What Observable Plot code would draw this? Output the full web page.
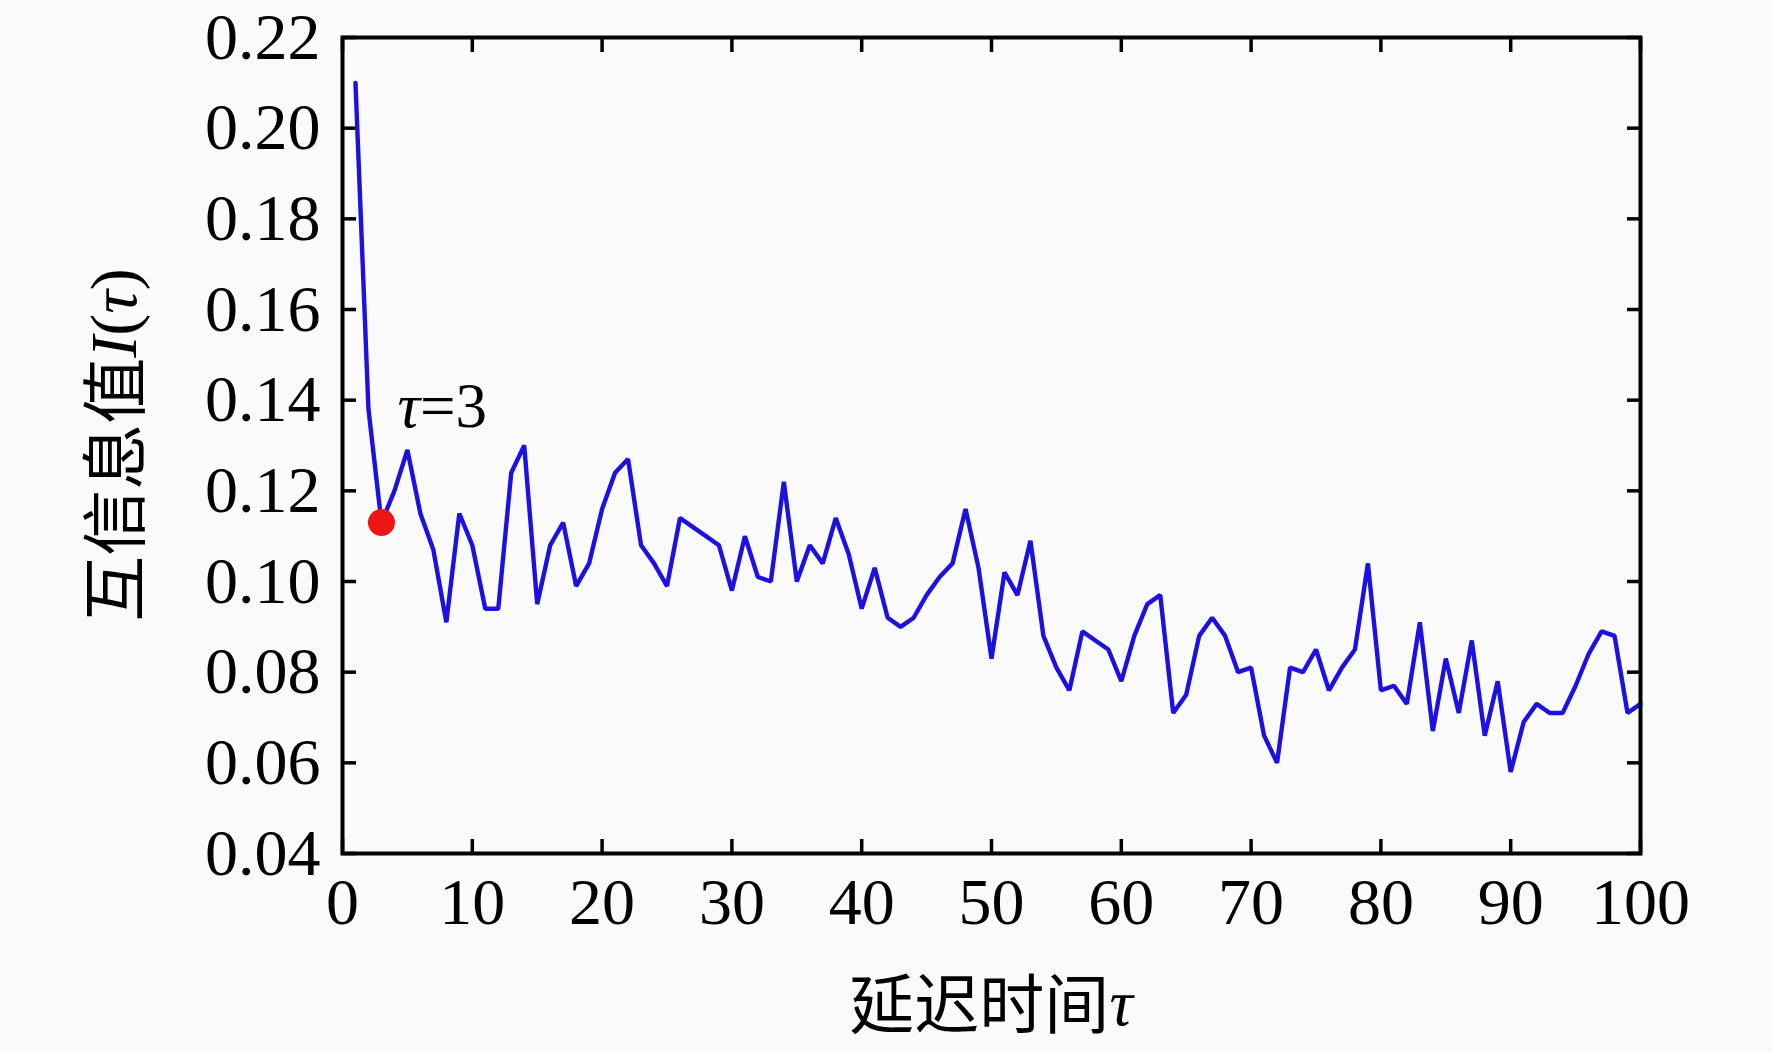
<!DOCTYPE html>
<html><head><meta charset="utf-8">
<script src="https://cdn.jsdelivr.net/npm/d3@7"></script>
<script src="https://cdn.jsdelivr.net/npm/@observablehq/plot@0.6"></script>
<style>
body{margin:0;background:#fafafa;}
svg{display:block;background:#fafafa;}
</style>
</head><body><div id="chart"></div>
<script>
// mutual information I(tau) for lag tau = 1..100
const miValues = [
  0.210, 0.138, 0.113, 0.120, 0.129, 0.115, 0.107, 0.091, 0.115, 0.108,
  0.094, 0.094, 0.124, 0.130, 0.095, 0.108, 0.113, 0.099, 0.104, 0.116,
  0.124, 0.127, 0.108, 0.104, 0.099, 0.114, 0.112, 0.110, 0.108, 0.098,
  0.110, 0.101, 0.100, 0.122, 0.100, 0.108, 0.104, 0.114, 0.106, 0.094,
  0.103, 0.092, 0.090, 0.092, 0.097, 0.101, 0.104, 0.116, 0.103, 0.083,
  0.102, 0.097, 0.109, 0.088, 0.081, 0.076, 0.089, 0.087, 0.085, 0.078,
  0.088, 0.095, 0.097, 0.071, 0.075, 0.088, 0.092, 0.088, 0.080, 0.081,
  0.066, 0.060, 0.081, 0.080, 0.085, 0.076, 0.081, 0.085, 0.104, 0.076,
  0.077, 0.073, 0.091, 0.067, 0.083, 0.071, 0.087, 0.066, 0.078, 0.058,
  0.069, 0.073, 0.071, 0.071, 0.077, 0.084, 0.089, 0.088, 0.071, 0.073
];
const lags = miValues.map((_, i) => i + 1);
const xTicks = [0, 10, 20, 30, 40, 50, 60, 70, 80, 90, 100];
const yTicks = [0.04, 0.06, 0.08, 0.10, 0.12, 0.14, 0.16, 0.18, 0.20, 0.22];
const optimalLag = [3];
const annotationText = ["τ=3"];
const xLabelCJK = "延迟时间";
const yLabelCJK = "互信息值";

const data = lags.map((t, i) => ({t, v: miValues[i]}));
const marked = optimalLag.map(t => ({t, v: miValues[t - 1]}));

const W = 1772, H = 1053;
const mL = 342, mR = 132, mT = 37, mB = 200;
const serif = "'Liberation Serif','Times New Roman',serif";
const tickFont = 66;

const plot = Plot.plot({
  width: W, height: H,
  marginLeft: mL, marginRight: mR, marginTop: mT, marginBottom: mB,
  style: {background: "#fafafa", fontFamily: serif, color: "#000"},
  x: {domain: [0, 100]},
  y: {domain: [0.04, 0.22]},
  marks: [
    Plot.axisX(xTicks, {anchor: "bottom", tickSize: -14, strokeWidth: 3.5, text: null, label: null}),
    Plot.axisX(xTicks, {anchor: "top", tickSize: -14, strokeWidth: 3.5, text: null, label: null}),
    Plot.axisY(yTicks, {anchor: "left", tickSize: -14, strokeWidth: 3.5, text: null, label: null}),
    Plot.axisY(yTicks, {anchor: "right", tickSize: -14, strokeWidth: 3.5, text: null, label: null}),
    Plot.axisX(xTicks, {anchor: "bottom", tickSize: 0, tickPadding: 24, fontSize: tickFont, label: null, tickFormat: d3.format("d")}),
    Plot.axisY(yTicks, {anchor: "left", tickSize: 0, tickPadding: 22, fontSize: tickFont, label: null, tickFormat: d3.format(".2f")}),
    Plot.line(data, {x: "t", y: "v", stroke: "#1d10e2", strokeWidth: 4.4, strokeLinejoin: "miter"}),
    Plot.dot(marked, {x: "t", y: "v", r: 13.5, fill: "#ee1515", stroke: "none"}),
    Plot.text(marked, {x: "t", y: "v", text: () => annotationText[0], dx: 16, dy: -116, textAnchor: "start",
      fontSize: 63, fontFamily: serif}),
    Plot.frame({stroke: "#000", strokeWidth: 4})
  ]
});

// style the τ in the annotation italic
const svg = d3.select(plot);
svg.selectAll("text").filter(function(){ return this.textContent === annotationText[0]; })
  .each(function(){
    const el = d3.select(this);
    const txt = el.text();
    const tsp = el.select("tspan");
    const target = tsp.empty() ? el : tsp;
    target.text(null);
    target.append("tspan").attr("font-style", "italic").text(txt.slice(0,1));
    target.append("tspan").text(txt.slice(1));
  });

// axis titles
const cx = mL + (W - mL - mR) / 2;
const cy = mT + (H - mT - mB) / 2;
const xt = svg.append("text")
  .attr("x", cx).attr("y", 1010)
  .attr("text-anchor", "middle").attr("dominant-baseline", "middle")
  .attr("font-size", 65).attr("fill", "#000");
xt.append("tspan").attr("font-family", "'Noto Sans CJK SC'").text(xLabelCJK);
xt.append("tspan").attr("font-family", serif).attr("font-style", "italic").text("τ");

const yt = svg.append("text")
  .attr("transform", `translate(121,${cy}) rotate(-90)`)
  .attr("text-anchor", "middle").attr("dominant-baseline", "middle")
  .attr("font-size", 66).attr("fill", "#000");
yt.append("tspan").attr("font-family", "'Noto Sans CJK SC'").text(yLabelCJK);
yt.append("tspan").attr("font-family", serif).attr("font-style", "italic").text("I");
yt.append("tspan").attr("font-family", serif).text("(");
yt.append("tspan").attr("font-family", serif).attr("font-style", "italic").text("τ");
yt.append("tspan").attr("font-family", serif).text(")");

document.getElementById("chart").appendChild(plot);
</script>
</body></html>
